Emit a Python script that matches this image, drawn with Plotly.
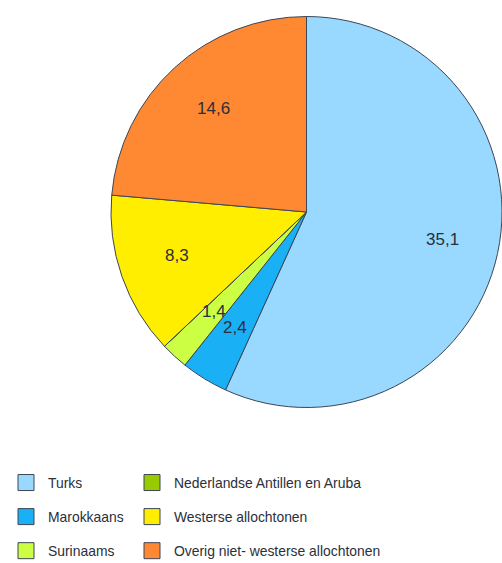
import math
import plotly.graph_objects as go

# ---- data ----
categories = ["Turks", "Marokkaans", "Surinaams", "Nederlandse Antillen en Aruba",
              "Westerse allochtonen", "Overig niet- westerse allochtonen"]
values = [35.1, 2.4, 1.4, 0.0, 8.3, 14.6]
colors = ["#99D9FF", "#1AB0F5", "#CCFF44", "#99CC00", "#FFEE00", "#FF8833"]
legend_col1 = ["Turks", "Marokkaans", "Surinaams"]
legend_col2 = ["Nederlandse Antillen en Aruba", "Westerse allochtonen", "Overig niet- westerse allochtonen"]

W, H = 502, 563
# pie geometry (pixels)
cx, cy, R = 307, 212, 196
dom_x = [(cx - R) / W, min(1.0, (cx + R) / W)]
dom_y = [1 - (cy + R) / H, 1 - (cy - R) / H]

FONT = "Liberation Sans, Arial, sans-serif"
TEXTC = "#2b2f3a"

fig = go.Figure()
fig.add_trace(go.Pie(
    labels=categories, values=values, sort=False, direction="clockwise", rotation=0,
    marker=dict(colors=colors, line=dict(color="#3c4656", width=1)),
    textinfo="none", hoverinfo="label+value", showlegend=False,
    domain=dict(x=dom_x, y=dom_y),
))

# value labels at 70% radius on the mid angle of each slice
total = sum(values)
cum = 0.0
annotations = []
for lab, v in zip(categories, values):
    a0 = cum / total * 2 * math.pi
    cum += v
    a1 = cum / total * 2 * math.pi
    if v <= 0:
        continue
    am = (a0 + a1) / 2
    r = 0.705 * R
    px = cx + r * math.sin(am)
    py = cy - r * math.cos(am) - 2
    annotations.append(dict(
        x=px / W, y=1 - py / H, xref="paper", yref="paper",
        text=f"{v:.1f}".replace(".", ","), showarrow=False,
        font=dict(family=FONT, size=17, color=TEXTC),
        xanchor="center", yanchor="middle",
    ))

# legend entries
col = dict(zip(categories, colors))
for i, name in enumerate(legend_col1 + legend_col2):
    fig.add_trace(go.Scatter(
        x=[None], y=[None], mode="markers", name=name,
        marker=dict(symbol="square", size=18, color=col[name],
                    line=dict(color="#3c4656", width=1)),
        legend="legend" if name in legend_col1 else "legend2",
        legendgroup=f"g{i}", hoverinfo="skip",
    ))

leg_common = dict(
    orientation="v", font=dict(family=FONT, size=13.9, color=TEXTC),
    bgcolor="rgba(0,0,0,0)", tracegroupgap=13, yanchor="top", xanchor="left",
    itemwidth=34, itemsizing="trace", itemclick=False, itemdoubleclick=False,
)
fig.update_layout(
    width=W, height=H, margin=dict(l=0, r=0, t=0, b=0, autoexpand=False),
    paper_bgcolor="white", plot_bgcolor="white",
    xaxis=dict(visible=False), yaxis=dict(visible=False),
    annotations=annotations,
    legend=dict(x=4 / W, y=1 - 467 / H, **leg_common),
    legend2=dict(x=130 / W, y=1 - 467 / H, **leg_common),
    showlegend=True,
)
fig.write_html(
    "out.html",
    config={"displayModeBar": False},
    post_script="document.body.style.margin='0';document.body.style.overflow='hidden';",
)
